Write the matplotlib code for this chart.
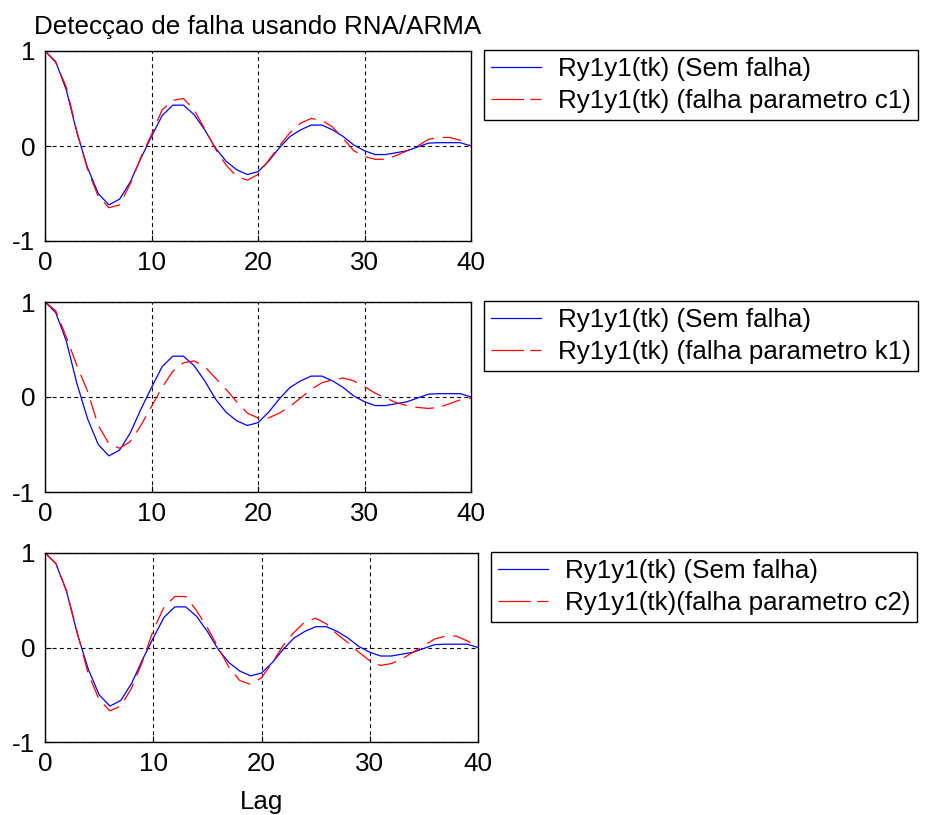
import matplotlib
matplotlib.use("Agg")
import matplotlib.pyplot as plt
from matplotlib.lines import Line2D
import numpy as np

plt.rcParams['font.family'] = ['Liberation Sans', 'DejaVu Sans']
plt.rcParams['axes.unicode_minus'] = False

lags = list(range(41))

sem_falha = [1.00, 0.89, 0.59, 0.14, -0.23, -0.50, -0.62, -0.56, -0.38, -0.13,
             0.10, 0.32, 0.43, 0.43, 0.33, 0.17, -0.02, -0.16, -0.25, -0.30,
             -0.27, -0.16, -0.02, 0.10, 0.17, 0.22, 0.22, 0.17, 0.10, 0.01,
             -0.05, -0.09, -0.09, -0.07, -0.05, -0.01, 0.03, 0.035, 0.035, 0.035,
             0.00]

falha_c1 = [1.00, 0.88, 0.62, 0.15, -0.25, -0.53, -0.65, -0.62, -0.40, -0.12,
            0.12, 0.38, 0.48, 0.50, 0.38, 0.18, -0.03, -0.20, -0.32, -0.36,
            -0.30, -0.15, 0.00, 0.14, 0.24, 0.29, 0.27, 0.20, 0.08, -0.05,
            -0.11, -0.14, -0.14, -0.10, -0.05, 0.00, 0.07, 0.09, 0.09, 0.06,
            0.00]

falha_k1 = [1.00, 0.91, 0.63, 0.33, 0.06, -0.30, -0.49, -0.54, -0.47, -0.30,
            -0.10, 0.10, 0.27, 0.36, 0.38, 0.32, 0.20, 0.08, -0.05, -0.17,
            -0.22, -0.22, -0.17, -0.10, -0.01, 0.08, 0.15, 0.18, 0.20, 0.17,
            0.11, 0.04, -0.01, -0.06, -0.09, -0.11, -0.12, -0.11, -0.07, -0.03,
            -0.01]

falha_c2 = [1.00, 0.89, 0.60, 0.15, -0.28, -0.55, -0.67, -0.62, -0.43, -0.15,
            0.18, 0.43, 0.54, 0.54, 0.39, 0.21, 0.00, -0.21, -0.35, -0.39,
            -0.32, -0.16, 0.02, 0.16, 0.27, 0.31, 0.25, 0.14, 0.05, -0.05,
            -0.14, -0.19, -0.17, -0.12, -0.05, 0.02, 0.09, 0.12, 0.12, 0.07,
            0.01]

title = "Detecçao de falha usando RNA/ARMA"
labels_blue = ["Ry1y1(tk) (Sem falha)"] * 3
labels_red = ["Ry1y1(tk) (falha parametro c1)",
              "Ry1y1(tk) (falha parametro k1)",
              "Ry1y1(tk)(falha parametro c2)"]
xticks = [0, 10, 20, 30, 40]
yticks = [-1, 0, 1]

W, H = 928, 815
fig = plt.figure(figsize=(W / 100, H / 100), dpi=100)

# axes in pixel coords: (left, top, right, bottom)
ax_px = [(45, 51, 471, 241), (45, 302, 471, 492), (45, 553, 478, 742)]
leg_px = [(484, 50), (484, 301), (491, 552)]
reds = [falha_c1, falha_k1, falha_c2]

FS = 18.7
for i in range(3):
    l, t, r, b = ax_px[i]
    ax = fig.add_axes([l / W, 1 - b / H, (r - l) / W, (b - t) / H])
    ax.plot(lags, sem_falha, color=(0, 0, 1), lw=0.9)
    ax.plot(lags, reds[i], color=(1, 0, 0), lw=0.9, dashes=(15, 7))
    ax.set_xlim(0, 40)
    ax.set_ylim(-1, 1)
    ax.set_xticks(xticks)
    ax.set_yticks(yticks)
    ax.grid(True, color='black', lw=0.8, linestyle=(0, (3.5, 3)))
    ax.tick_params(direction='in', length=4, labelsize=FS, pad=7, width=0.8)
    for s in ax.spines.values():
        s.set_linewidth(1.0)
        s.set_color('black')
    if i == 0:
        ax.set_title(title, fontsize=FS, pad=12)
    if i == 2:
        ax.set_xlabel("Lag", fontsize=FS, labelpad=10)
    handles = [Line2D([], [], color=(0, 0, 1), lw=0.9),
               Line2D([], [], color=(1, 0, 0), lw=0.9, dashes=(26, 5))]
    lx, ly = leg_px[i]
    leg = fig.legend(handles, [labels_blue[i], labels_red[i]],
                     loc='upper left', bbox_to_anchor=(lx / W, 1 - ly / H),
                     bbox_transform=fig.transFigure, fontsize=FS,
                     frameon=True, fancybox=False, shadow=False,
                     handlelength=1.9, handletextpad=0.65, borderpad=0.28,
                     labelspacing=0.3, borderaxespad=0)
    leg.get_frame().set_edgecolor('black')
    leg.get_frame().set_linewidth(1.0)
    leg.get_frame().set_alpha(1)

fig.savefig("out.png", dpi=100)
